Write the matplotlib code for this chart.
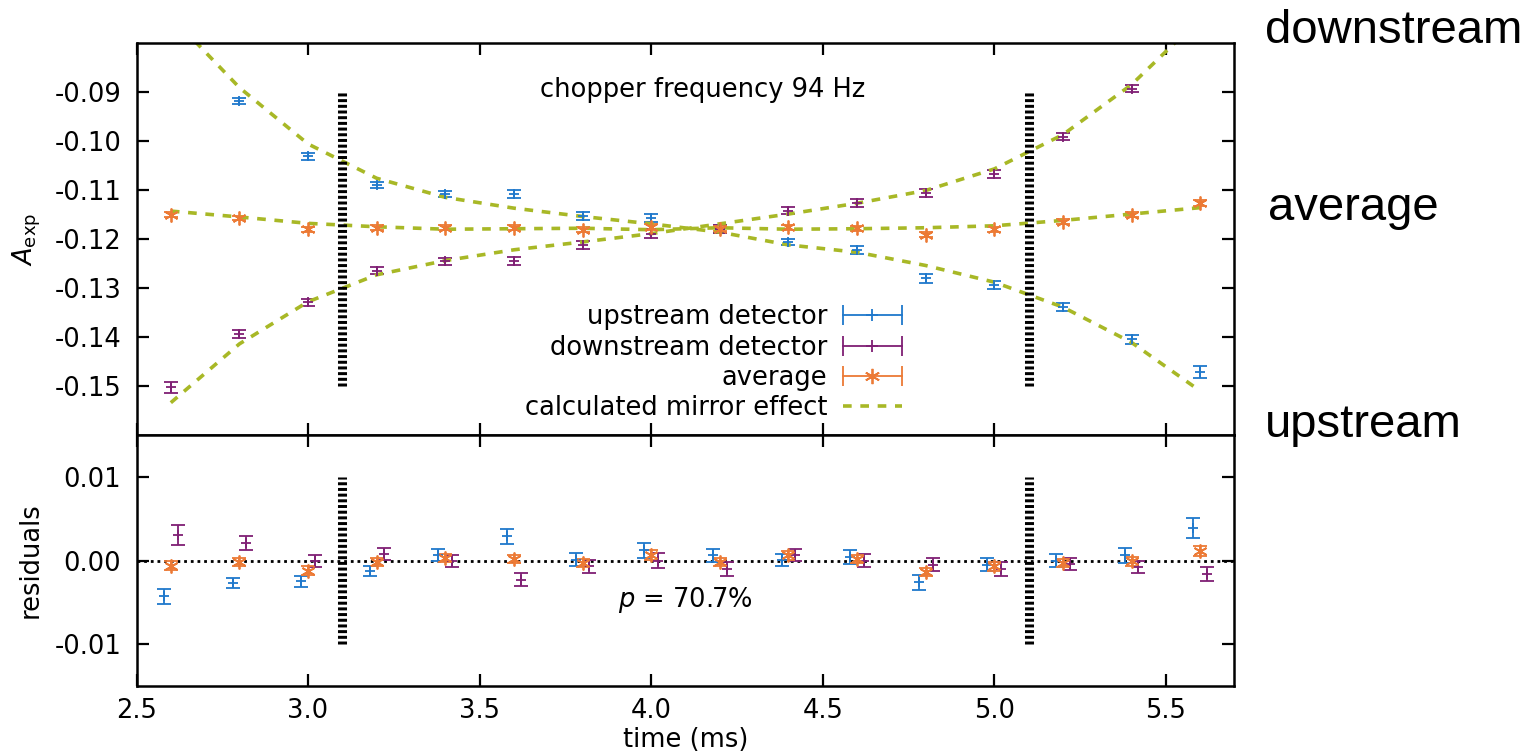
import numpy as np
import matplotlib
matplotlib.use("Agg")
import matplotlib.pyplot as plt
from matplotlib.lines import Line2D
from matplotlib.legend_handler import HandlerLine2D

plt.rcParams['font.family'] = ['DejaVu Sans']
plt.rcParams['axes.unicode_minus'] = False
plt.rcParams['mathtext.fontset'] = 'dejavusans'

# time bins (ms)
t = [2.6, 2.8, 3.0, 3.2, 3.4, 3.6, 3.8, 4.0, 4.2, 4.4, 4.6, 4.8, 5.0, 5.2, 5.4, 5.6]

# measured asymmetries
a_up = [-0.0788, -0.0918, -0.1031, -0.1089, -0.1108, -0.1108, -0.1153, -0.1157,
        -0.1180, -0.1206, -0.1223, -0.1280, -0.1293, -0.1339, -0.1405, -0.1471]
a_down = [-0.1503, -0.1393, -0.1329, -0.1265, -0.1245, -0.1245, -0.1213, -0.1189,
          -0.1179, -0.1142, -0.1127, -0.1106, -0.1067, -0.0991, -0.0893, -0.0766]
a_avg = [-0.1150, -0.1157, -0.1180, -0.1177, -0.1177, -0.1177, -0.1181, -0.1176,
         -0.1179, -0.1176, -0.1178, -0.1191, -0.1180, -0.1165, -0.1150, -0.1127]

err_up = [0.0009, 0.0006, 0.0007, 0.0006, 0.0007, 0.0009, 0.0008, 0.0009,
          0.0008, 0.0007, 0.0008, 0.0009, 0.0008, 0.0008, 0.0009, 0.0012]
err_down = [0.0012, 0.0008, 0.0007, 0.0007, 0.0007, 0.0008, 0.0008, 0.0009,
            0.0008, 0.0007, 0.0008, 0.0008, 0.0008, 0.0007, 0.0007, 0.0008]
err_avg = [0.0005, 0.0005, 0.0005, 0.0005, 0.0005, 0.0005, 0.0005, 0.0006,
           0.0005, 0.0005, 0.0005, 0.0005, 0.0005, 0.0005, 0.0005, 0.0006]

# calculated mirror effect at the bin centres
m_up = [-0.0745, -0.0891, -0.1006, -0.1076, -0.1115, -0.1137, -0.1154, -0.1169,
        -0.1186, -0.1212, -0.1227, -0.1254, -0.1288, -0.1339, -0.1411, -0.1510]
m_down = [-0.1534, -0.1414, -0.1328, -0.1273, -0.1244, -0.1222, -0.1206, -0.1189,
          -0.1169, -0.1149, -0.1127, -0.1101, -0.1057, -0.0987, -0.0885, -0.0750]
m_avg = [-0.1143, -0.1155, -0.1168, -0.1175, -0.1180, -0.1179, -0.1178, -0.1181,
         -0.1177, -0.1180, -0.1179, -0.1177, -0.1173, -0.1162, -0.1149, -0.1136]

# residuals (data - model)
r_up = [-0.0043, -0.0027, -0.0025, -0.0013, 0.0007, 0.0029, 0.0001, 0.0012,
        0.0006, 0.0001, 0.0004, -0.0026, -0.0005, 0.0000, 0.0006, 0.0039]
r_down = [0.0031, 0.0021, -0.0001, 0.0008, -0.0001, -0.0023, -0.0007, 0.0000,
          -0.0010, 0.0007, 0.0000, -0.0005, -0.0010, -0.0004, -0.0008, -0.0016]
r_avg = [-0.0006, -0.0002, -0.0012, -0.0002, 0.0003, 0.0002, -0.0003, 0.0007,
         -0.0002, 0.0006, 0.0002, -0.0014, -0.0007, -0.0003, -0.0001, 0.0011]

cuts = [3.1, 5.1]
labels = ['upstream detector', 'downstream detector', 'average', 'calculated mirror effect']

c_up = '#1f78cc'
c_down = '#7f1f74'
c_avg = '#ec7a35'
c_model = '#a8b826'

fs = 18.5
t = np.array(t)
dt = 0.02

fig = plt.figure(figsize=(15.39, 7.52), dpi=100)
ax1 = fig.add_axes([0.0887, 0.4215, 0.7134, 0.5213])
ax2 = fig.add_axes([0.0887, 0.0878, 0.7134, 0.3337])

eb = dict(ls='none', elinewidth=1.3, capsize=4.7, capthick=1.3, mew=1.3)
star = (6, 2, 0)

# top panel
ax1.errorbar(t, a_up, yerr=err_up, color=c_up, marker='+', ms=7, **eb)
ax1.errorbar(t, a_down, yerr=err_down, color=c_down, marker='+', ms=7, **eb)
ax1.errorbar(t, a_avg, yerr=err_avg, color=c_avg, marker=star, ms=10, **eb)
for m in (m_up, m_down, m_avg):
    ax1.plot(t, m, color=c_model, lw=2.6, dashes=(2.4, 2.4))
ax1.vlines(cuts, -0.15, -0.09, color='black', lw=6.5, linestyles=[(0, (0.33, 0.3))])
ax1.text(4.15, -0.0895, 'chopper frequency 94 Hz', fontsize=fs, ha='center', va='center')
ax1.set_xlim(2.5, 5.7)
ax1.set_ylim(-0.16, -0.08)
ax1.set_yticks([-0.09, -0.10, -0.11, -0.12, -0.13, -0.14, -0.15])
ax1.yaxis.set_major_formatter(matplotlib.ticker.FormatStrFormatter('%.2f'))
ax1.set_xticks([2.5, 3.0, 3.5, 4.0, 4.5, 5.0, 5.5])
ax1.tick_params(labelbottom=False)
ax1.set_ylabel(r'$A_{\mathrm{exp}}$', fontsize=fs)

# legend in gnuplot style
handles = []
hmap = {}
for col, mk, ms in ((c_up, '+', 9), (c_down, '+', 9), (c_avg, star, 11)):
    caps = Line2D([], [], color=col, lw=1.3, marker='|', ms=15, mew=1.3)
    pt = Line2D([], [], color=col, ls='none', marker=mk, ms=ms, mew=1.3)
    hmap[caps] = HandlerLine2D(numpoints=2, marker_pad=0)
    hmap[pt] = HandlerLine2D(numpoints=1)
    handles.append((caps, pt))
handles.append(Line2D([], [], color=c_model, lw=2.6, dashes=(2.4, 2.4)))
ax1.legend(handles, labels, handler_map=hmap, loc='lower right',
           bbox_to_anchor=(0.697, 0.035), frameon=False, markerfirst=False,
           fontsize=fs, handlelength=2.3, handletextpad=0.6,
           labelspacing=0.17, borderpad=0, borderaxespad=0)

# residual panel
ax2.axhline(0, color='black', lw=2, ls=(0, (1, 1.4)))
ax2.errorbar(t - dt, r_up, yerr=err_up, color=c_up, marker='+', ms=7, **eb)
ax2.errorbar(t + dt, r_down, yerr=err_down, color=c_down, marker='+', ms=7, **eb)
ax2.errorbar(t, r_avg, yerr=err_avg, color=c_avg, marker=star, ms=10, **eb)
ax2.vlines(cuts, -0.01, 0.01, color='black', lw=6.5, linestyles=[(0, (0.33, 0.3))])
ax2.text(4.10, -0.0047, r'$p$ = 70.7%', fontsize=fs, ha='center', va='center')
ax2.set_xlim(2.5, 5.7)
ax2.set_ylim(-0.015, 0.015)
ax2.set_yticks([-0.01, 0.0, 0.01])
ax2.yaxis.set_major_formatter(matplotlib.ticker.FormatStrFormatter('%.2f'))
ax2.set_xticks([2.5, 3.0, 3.5, 4.0, 4.5, 5.0, 5.5])
ax2.xaxis.set_major_formatter(matplotlib.ticker.FormatStrFormatter('%.1f'))
ax2.set_xlabel('time (ms)', fontsize=fs, labelpad=2)
ax2.set_ylabel('residuals', fontsize=fs)

for ax in (ax1, ax2):
    for s in ax.spines.values():
        s.set_linewidth(1.8)
    ax.tick_params(direction='in', top=True, right=True, length=8.5, width=1.6,
                   labelsize=fs)
    ax.tick_params(axis='y', pad=11)
    ax.tick_params(axis='x', pad=9)
    ax.yaxis.set_label_coords(-0.085, 0.5)

# side labels
side = dict(fontsize=34, family='Liberation Sans', va='baseline', ha='left')
fig.text(0.822, 0.9432, 'downstream', **side)
fig.text(0.824, 0.7074, 'average', **side)
fig.text(0.822, 0.4189, 'upstream', **side)

fig.savefig('out.png', dpi=100)
